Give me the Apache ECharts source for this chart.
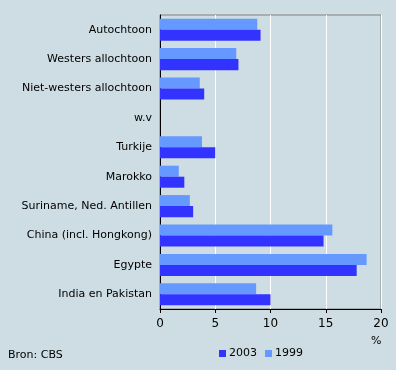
<!DOCTYPE html>
<html><head><meta charset="utf-8">
<script src="https://cdn.jsdelivr.net/npm/echarts@6/dist/echarts.min.js"></script>
<style>html,body{margin:0;padding:0;background:#cddde3;}#c{width:396px;height:370px;}</style>
</head><body><div id="c"></div>
<script>
const categories = ['Autochtoon','Westers allochtoon','Niet-westers allochtoon','w.v','Turkije','Marokko','Suriname, Ned. Antillen','China (incl. Hongkong)','Egypte','India en Pakistan'];
const values1999 = [8.8, 6.9, 3.6, null, 3.8, 1.7, 2.7, 15.6, 18.7, 8.7];
const values2003 = [9.1, 7.1, 4.0, null, 5.0, 2.2, 3.0, 14.8, 17.8, 10.0];
const xTicks = [0, 5, 10, 15, 20];

const chart = echarts.init(document.getElementById('c'));
const font = 'DejaVu Sans';
chart.setOption({
  backgroundColor: '#cddde3',
  animation: false,
  textStyle: {fontFamily: font},
  grid: {left: 160, right: 15, top: 15, bottom: 61, show: true, borderColor: '#808080', borderWidth: 1, backgroundColor: 'transparent'},
  xAxis: {
    type: 'value', min: xTicks[0], max: xTicks[xTicks.length-1], interval: 5,
    axisLine: {show: true, lineStyle: {color: '#000', width: 1}},
    axisTick: {show: true, length: 4, lineStyle: {color: '#000'}},
    axisLabel: {color: '#000', fontSize: 12, fontFamily: font, margin: 9},
    splitLine: {show: true, lineStyle: {color: '#ffffff', width: 1}}
  },
  yAxis: {
    type: 'category', data: categories, inverse: true,
    axisLine: {show: true, lineStyle: {color: '#000', width: 1}},
    axisTick: {show: false},
    axisLabel: {color: '#000', fontSize: 11, fontFamily: font, margin: 8}
  },
  legend: {
    data: ['2003', '1999'], bottom: 6, left: 214, itemWidth: 7, itemHeight: 7, itemGap: 8,
    icon: 'rect', textStyle: {color: '#000', fontSize: 11, fontFamily: font, padding: [0,0,0,-2]}
  },
  series: [
    {name: '1999', type: 'bar', data: values1999, itemStyle: {color: '#6699ff'}, barGap: '0%', barCategoryGap: '25%'},
    {name: '2003', type: 'bar', data: values2003, itemStyle: {color: '#3333ff'}, barGap: '0%', barCategoryGap: '25%'}
  ],
  graphic: [
    {type: 'text', left: 371, top: 336, style: {text: '%', fill: '#000', font: '11px "DejaVu Sans"'}},
    {type: 'text', left: 8, top: 350, style: {text: 'Bron: CBS', fill: '#000', font: '11px "DejaVu Sans"'}}
  ]
});
</script></body></html>
